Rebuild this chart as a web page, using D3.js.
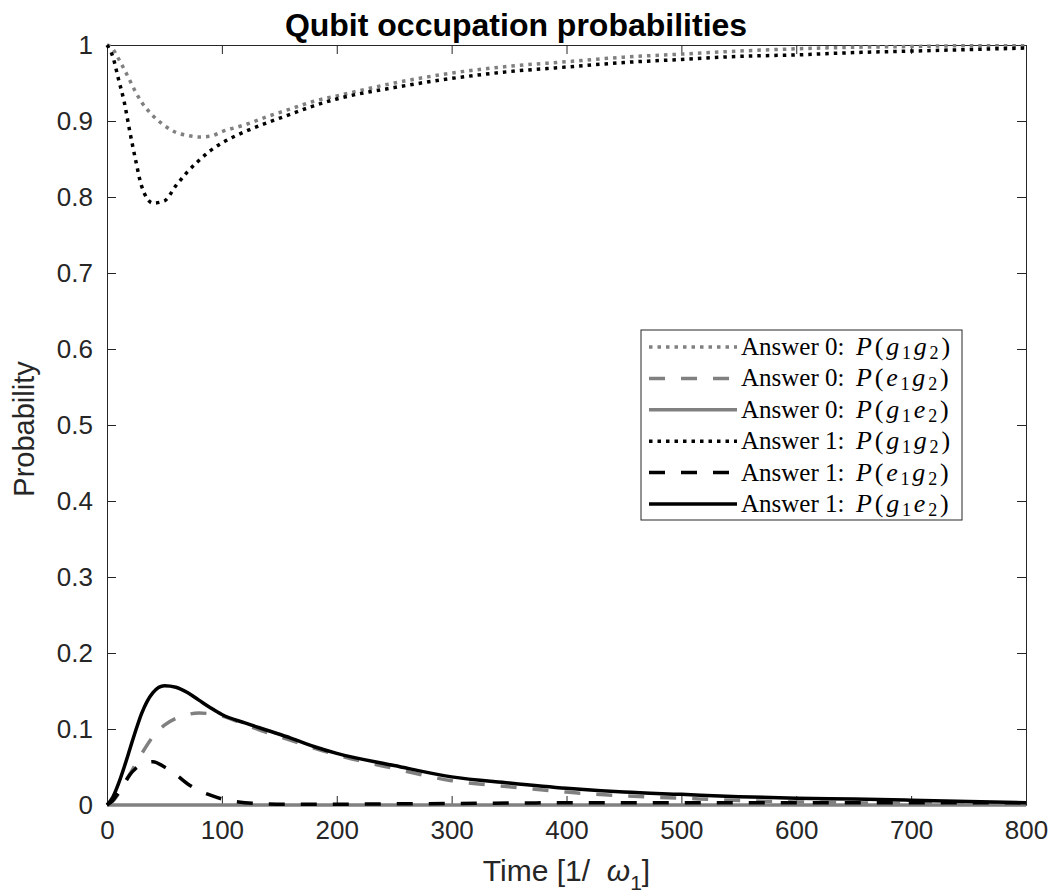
<!DOCTYPE html>
<html>
<head>
<meta charset="utf-8">
<script src="https://cdn.jsdelivr.net/npm/d3@7"></script>
<style>
  body { margin: 0; background: #fff; }
  svg { display: block; }
</style>
</head>
<body>
<svg id="chart"></svg>
<script>
// time axis (1/omega_1)
const time = [0, 5, 10, 15, 20, 25, 30, 40, 50, 60, 70, 80, 90, 100, 120, 140, 160, 180, 200,
  250, 300, 350, 400, 450, 500, 550, 600, 650, 700, 750, 800];

// Answer 0
const ans0_g1g2 = [1, 0.995, 0.982, 0.968, 0.953, 0.938, 0.925, 0.907, 0.894, 0.885, 0.881, 0.879, 0.880, 0.886,
  0.895, 0.906, 0.916, 0.926, 0.933, 0.950, 0.963, 0.972, 0.978, 0.984, 0.988, 0.992, 0.995, 0.997, 0.998, 0.999, 0.999];
const ans0_e1g2 = [0, 0.005, 0.015, 0.028, 0.041, 0.054, 0.067, 0.090, 0.105, 0.114, 0.119, 0.121, 0.120, 0.117,
  0.106, 0.095, 0.085, 0.075, 0.066, 0.048, 0.032, 0.024, 0.017, 0.012, 0.009, 0.006, 0.004, 0.003, 0.002, 0.0015, 0.001];
const ans0_g1e2 = [0, 0, 0, 0, 0, 0, 0, 0, 0, 0, 0, 0, 0, 0, 0, 0, 0, 0, 0, 0, 0, 0, 0, 0, 0, 0, 0, 0, 0, 0, 0];

// Answer 1
const ans1_g1g2 = [1, 0.985, 0.955, 0.925, 0.885, 0.848, 0.815, 0.792, 0.795, 0.815, 0.833, 0.848, 0.861, 0.871,
  0.886, 0.898, 0.909, 0.920, 0.929, 0.944, 0.956, 0.965, 0.971, 0.977, 0.981, 0.985, 0.987, 0.990, 0.992, 0.994, 0.996];
const ans1_e1g2 = [0, 0.006, 0.016, 0.028, 0.040, 0.048, 0.053, 0.057, 0.050, 0.040, 0.028, 0.019, 0.013, 0.008,
  0.003, 0.0015, 0.001, 0.001, 0.001, 0.0015, 0.002, 0.0025, 0.003, 0.003, 0.003, 0.003, 0.003, 0.003, 0.003, 0.003, 0.003];
const ans1_g1e2 = [0, 0.010, 0.028, 0.050, 0.074, 0.098, 0.120, 0.148, 0.157, 0.155, 0.148, 0.138, 0.128, 0.119,
  0.108, 0.098, 0.088, 0.077, 0.068, 0.052, 0.037, 0.029, 0.022, 0.017, 0.014, 0.011, 0.009, 0.0078, 0.0063, 0.0047, 0.003];

const xTicks = [0, 100, 200, 300, 400, 500, 600, 700, 800];
const yTicks = [0, 0.1, 0.2, 0.3, 0.4, 0.5, 0.6, 0.7, 0.8, 0.9, 1];

const answerNames = ["Answer 0:", "Answer 0:", "Answer 0:", "Answer 1:", "Answer 1:", "Answer 1:"];
const stateNames = [["g", "g"], ["e", "g"], ["g", "e"], ["g", "g"], ["e", "g"], ["g", "e"]];

const titleText = "Qubit occupation probabilities";
const yLabelText = "Probability";

const width = 1048;
const height = 896;
const margin = { top: 45, right: 22, bottom: 91, left: 107 };
const axisColor = "#262626";
const sans = "'Liberation Sans', Arial, Helvetica, sans-serif";
const serif = "'Liberation Serif', 'Times New Roman', serif";

const series = [ans0_g1g2, ans0_e1g2, ans0_g1e2, ans1_g1g2, ans1_e1g2, ans1_g1e2];
// stroke styles, same order as series
const styles = [
  { color: "#808080", dash: "3.5,5" },
  { color: "#808080", dash: "16,16" },
  { color: "#808080", dash: null },
  { color: "#000000", dash: "3.5,5" },
  { color: "#000000", dash: "16,16" },
  { color: "#000000", dash: null }
];

const svg = d3.select("#chart").attr("width", width).attr("height", height);

const x = d3.scaleLinear().domain([0, 800]).range([margin.left, width - margin.right]);
const y = d3.scaleLinear().domain([0, 1]).range([height - margin.bottom, margin.top]);

const fmt = d3.format("~g");

// axes (ticks point inwards, box on)
const gx = svg.append("g")
  .attr("transform", `translate(0,${y(0)})`)
  .call(d3.axisBottom(x).tickValues(xTicks).tickFormat(fmt).tickSize(-9).tickSizeOuter(0).tickPadding(16));
const gxTop = svg.append("g")
  .attr("transform", `translate(0,${y(1)})`)
  .call(d3.axisTop(x).tickValues(xTicks).tickFormat("").tickSize(-9).tickSizeOuter(0));
const gy = svg.append("g")
  .attr("transform", `translate(${x(0)},0)`)
  .call(d3.axisLeft(y).tickValues(yTicks).tickFormat(fmt).tickSize(-9).tickSizeOuter(0).tickPadding(14));
const gyRight = svg.append("g")
  .attr("transform", `translate(${x(800)},0)`)
  .call(d3.axisRight(y).tickValues(yTicks).tickFormat("").tickSize(-9).tickSizeOuter(0));

[gx, gxTop, gy, gyRight].forEach((g) => {
  g.selectAll("path, line").attr("stroke", axisColor).attr("stroke-width", 1);
  g.selectAll("text").attr("fill", axisColor)
    .style("font-size", "26px")
    .style("font-family", sans);
});

// lines
const line = d3.line()
  .x((d, i) => x(time[i]))
  .y((d) => y(d))
  .curve(d3.curveMonotoneX);

series.forEach((values, i) => {
  svg.append("path")
    .datum(values)
    .attr("fill", "none")
    .attr("stroke", styles[i].color)
    .attr("stroke-width", 3.5)
    .attr("stroke-dasharray", styles[i].dash)
    .attr("d", line);
});

// title
svg.append("text")
  .attr("x", 516)
  .attr("y", 36)
  .attr("text-anchor", "middle")
  .style("font-size", "32px")
  .style("font-family", sans)
  .style("font-weight", "bold")
  .attr("fill", "#000")
  .text(titleText);

// y label
svg.append("text")
  .attr("transform", `translate(34,${(y(0) + y(1)) / 2 + 4}) rotate(-90)`)
  .attr("text-anchor", "middle")
  .style("font-size", "29px")
  .style("font-family", sans)
  .attr("fill", axisColor)
  .text(yLabelText);

// x label: Time [1/ ω_1]
const xl = svg.append("text")
  .attr("x", (x(0) + x(800)) / 2)
  .attr("y", 881)
  .attr("text-anchor", "middle")
  .style("font-size", "30px")
  .style("font-family", sans)
  .style("white-space", "pre")
  .attr("fill", axisColor);
xl.append("tspan").text("Time [1/  ");
xl.append("tspan").style("font-style", "italic").text("ω");
xl.append("tspan").style("font-size", "21px").attr("dy", 9).text("1");
xl.append("tspan").attr("dy", -9).text("]");

// legend
const legend = { x: 641, y: 330, w: 321, h: 190, row: 31.4 };
const lg = svg.append("g");
lg.append("rect")
  .attr("x", legend.x).attr("y", legend.y)
  .attr("width", legend.w).attr("height", legend.h)
  .attr("fill", "#fff").attr("stroke", axisColor).attr("stroke-width", 1);

series.forEach((values, i) => {
  const cy = legend.y + 17 + i * legend.row;
  lg.append("line")
    .attr("x1", legend.x + 8).attr("x2", legend.x + 96)
    .attr("y1", cy).attr("y2", cy)
    .attr("stroke", styles[i].color)
    .attr("stroke-width", 3.5)
    .attr("stroke-dasharray", styles[i].dash);

  lg.append("text")
    .attr("x", legend.x + 100)
    .attr("y", cy + 8)
    .style("font-size", "25px")
    .style("font-family", serif)
    .attr("fill", "#000")
    .text(answerNames[i]);

  const m = lg.append("text")
    .attr("x", legend.x + 215)
    .attr("y", cy + 8)
    .style("font-size", "26px")
    .style("font-family", serif)
    .style("letter-spacing", "2.8px")
    .attr("fill", "#000");
  m.append("tspan").style("font-style", "italic").text("P");
  m.append("tspan").text("(");
  m.append("tspan").style("font-style", "italic").text(stateNames[i][0]);
  m.append("tspan").style("font-size", "18px").attr("dy", 4).text("1");
  m.append("tspan").style("font-style", "italic").attr("dy", -4).text(stateNames[i][1]);
  m.append("tspan").style("font-size", "18px").attr("dy", 4).text("2");
  m.append("tspan").attr("dy", -4).text(")");
});
</script>
</body>
</html>
